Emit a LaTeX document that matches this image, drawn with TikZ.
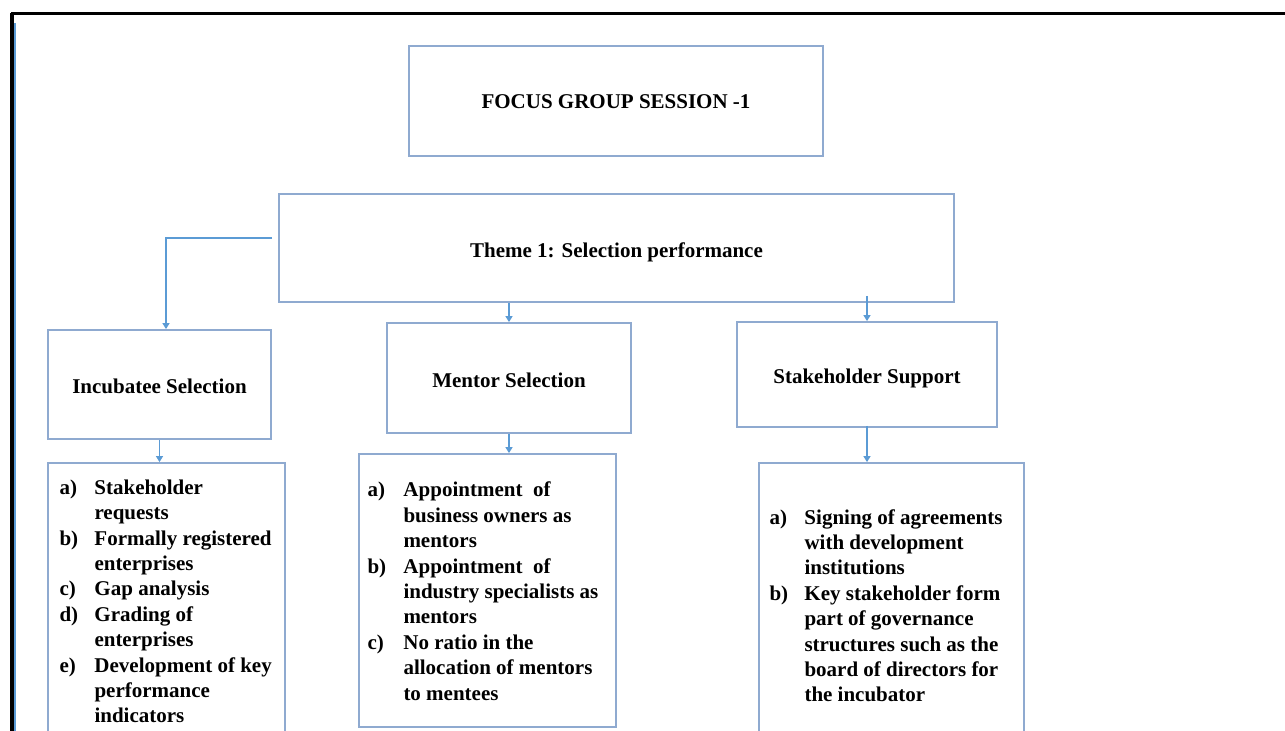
\documentclass[tikz,border=0pt]{standalone}
\usepackage{fontspec}
\setmainfont{Liberation Serif}
\usetikzlibrary{arrows.meta}
\definecolor{boxline}{HTML}{8FAAD0}
\definecolor{connline}{HTML}{5B9BD5}
\newcommand\bodysize{\fontsize{10.5}{12.7}\selectfont}
% lower a text block without changing the size it takes in its box
\newcommand\sinkby[2]{\raisebox{-#1}[\height][\depth]{#2}}

\begin{document}
\begin{tikzpicture}[x=0.5pt,y=-0.5pt,
  box/.style={draw=boxline, line width=0.9pt, inner sep=0pt,
              font=\bfseries\bodysize, align=center},
  conn/.style={draw=connline, line width=0.6pt,
               -{Triangle[width=3.5pt,length=3pt]}}]
\useasboundingbox (0,0) rectangle (1285,731);
\clip (0,0) rectangle (1285,731);
\fill[white] (0,0) rectangle (1285,731);

% page frame
\draw[line width=1.8pt] (11,13.5) -- (1285,13.5);
\draw[line width=2pt] (12,12.6) -- (12,731);
\draw[connline, line width=0.7pt] (14.8,23) -- (14.8,731);

% headings
\node[box, minimum width=207pt, minimum height=55pt] (focus) at (616,101)
  {\sinkby{0.5pt}{FOCUS GROUP SESSION -1}};
\node[box, minimum width=337.5pt, minimum height=54pt] (theme) at (616.5,248)
  {\sinkby{2pt}{Theme 1: Selection performance}};

% second level
\node[box, minimum width=111.5pt, minimum height=54.5pt] (incub) at (159.5,384.5)
  {\sinkby{1pt}{Incubatee Selection}};
\node[box, minimum width=122pt, minimum height=55pt] (mentor) at (509,378)
  {\sinkby{1pt}{Mentor Selection}};
\node[box, minimum width=130pt, minimum height=52.5pt] (stake) at (867,374.5)
  {\sinkby{2pt}{Stakeholder Support}};

% item lists
\node[box, minimum width=118.5pt, minimum height=138.5pt] (inclist) at (166.5,601.5)
  {\sinkby{1pt}{\begin{tabular}{@{}p{17.5pt}@{}p{89.5pt}@{}}
   a) & Stakeholder\\
      & requests\\
   b) & Formally registered\\
      & enterprises\\
   c) & Gap analysis\\
   d) & Grading of\\
      & enterprises\\
   e) & Development of key\\
      & performance\\
      & indicators
   \end{tabular}}};
\node[box, minimum width=128.5pt, minimum height=136.5pt] (mentlist) at (487.5,590.5)
  {\sinkby{1.5pt}{\begin{tabular}{@{}p{18pt}@{}p{99pt}@{\hspace{3pt}}}
   a) & Appointment\ \ of\\
      & business owners as\\
      & mentors\\
   b) & Appointment\ \ of\\
      & industry specialists as\\
      & mentors\\
   c) & No ratio in the\\
      & allocation of mentors\\
      & to mentees
   \end{tabular}}};
\node[box, minimum width=132.5pt, minimum height=143pt] (stakelist) at (891.5,606)
  {\sinkby{1pt}{\begin{tabular}{@{}p{17.5pt}@{}p{100.5pt}@{\hspace{4pt}}}
   a) & Signing of agreements\\
      & with development\\
      & institutions\\
   b) & Key stakeholder form\\
      & part of governance\\
      & structures such as the\\
      & board of directors for\\
      & the incubator
   \end{tabular}}};

% connectors
\coordinate (themeleft) at (272,238);
\draw[conn] (themeleft) -| ([xshift=3.25pt]incub.north);
\draw[conn] (theme.south -| mentor.north) -- (mentor.north);
\draw[conn] ([yshift=3.5pt]theme.south -| stake.north) -- (stake.north);
\draw[conn] (incub.south) -- (incub.south |- inclist.north);
\draw[conn] (mentor.south) -- (mentor.south |- mentlist.north);
\draw[conn] ([yshift=1pt]stake.south) -- (stake.south |- stakelist.north);
\end{tikzpicture}
\end{document}
